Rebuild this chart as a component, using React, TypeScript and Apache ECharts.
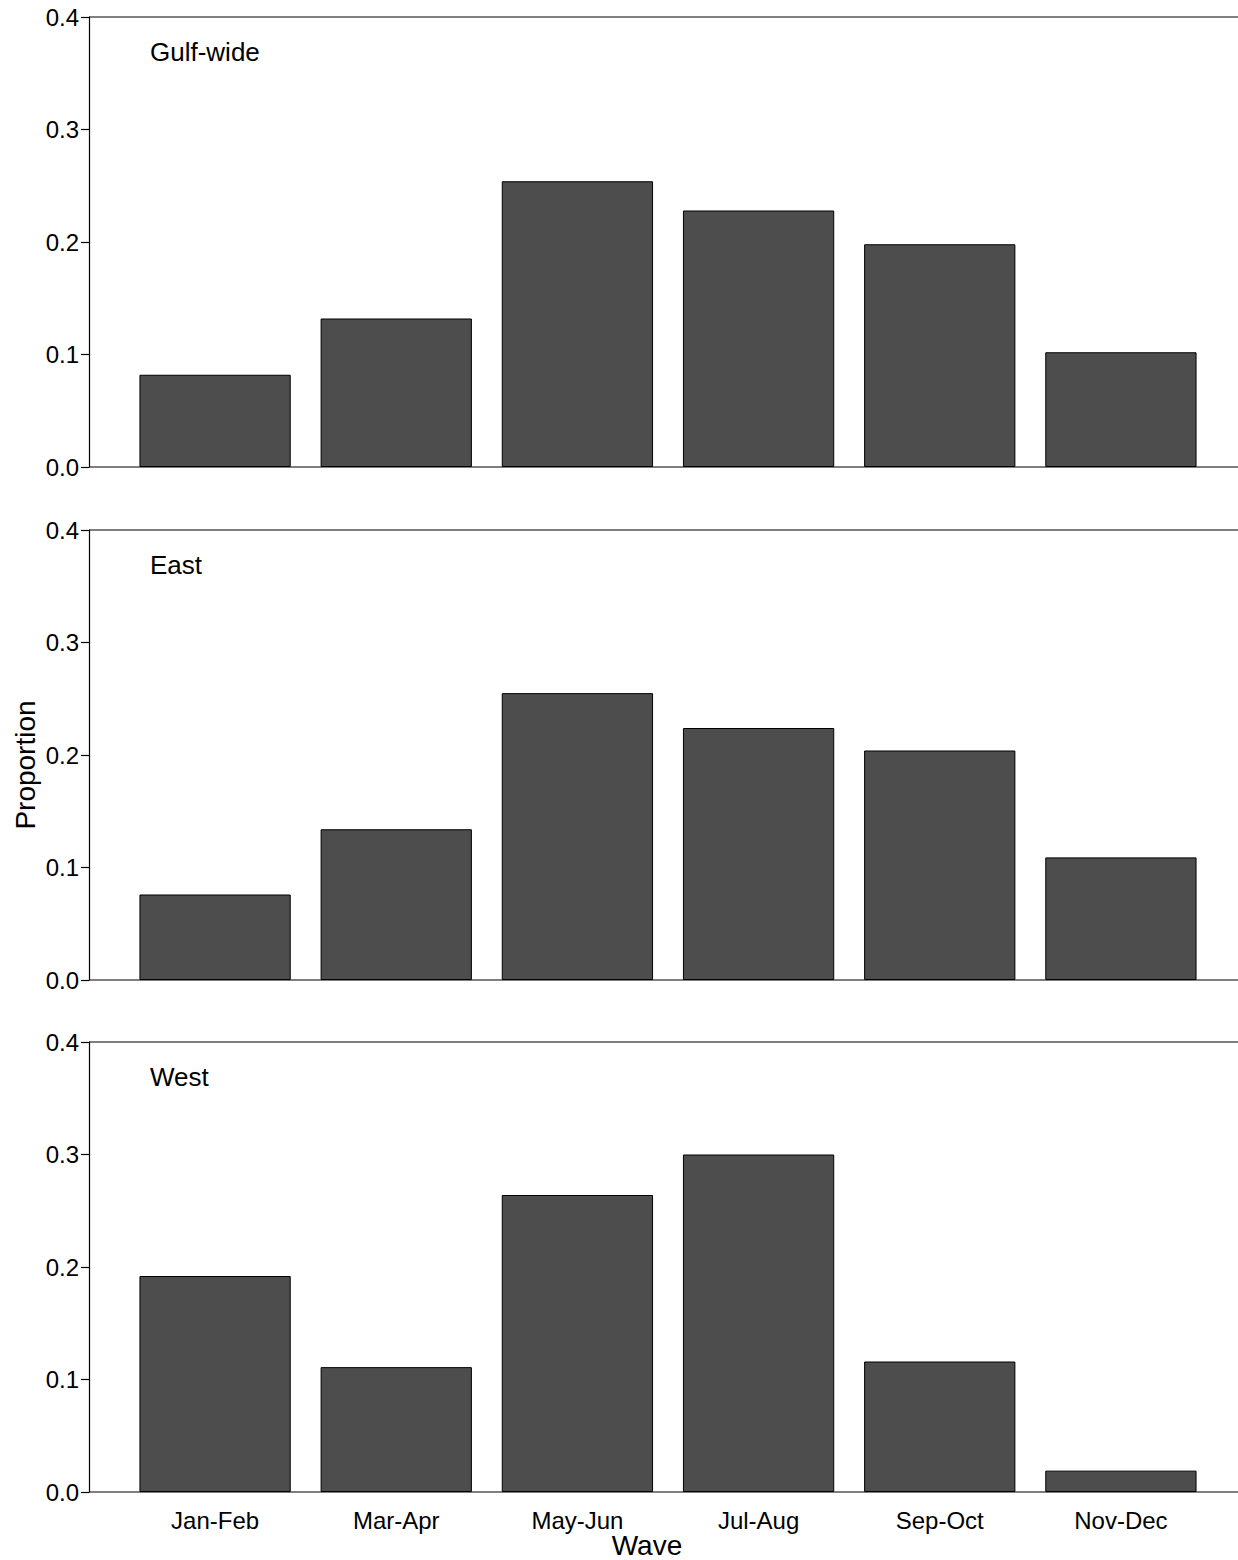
import { useEffect, useRef } from "react";
import * as echarts from "echarts";

const waves = ["Jan-Feb", "Mar-Apr", "May-Jun", "Jul-Aug", "Sep-Oct", "Nov-Dec"];
const panelNames = ["Gulf-wide", "East", "West"];
const gulfWide = [0.082, 0.132, 0.254, 0.228, 0.198, 0.102];
const east = [0.076, 0.134, 0.255, 0.224, 0.204, 0.109];
const west = [0.192, 0.111, 0.264, 0.3, 0.116, 0.019];
const yTicks = [0, 0.1, 0.2, 0.3, 0.4];

const FONT = "Liberation Sans";
const TOPS = [17, 530, 1042];
const H = 450;

export default function App() {
  const elRef = useRef<HTMLDivElement>(null);

  useEffect(() => {
    document.body.style.margin = "0";
    const el = elRef.current;
    if (!el) return;
    const chart = echarts.init(el, undefined, { renderer: "svg" });
    const data = [gulfWide, east, west];

    const lines: any[] = [];
    TOPS.forEach((t) => {
      [t, t + H].forEach((y) =>
        lines.push({
          type: "line",
          shape: { x1: 89, y1: y, x2: 1238, y2: y },
          style: { stroke: "#000", lineWidth: 1.2 },
        }),
      );
    });

    chart.setOption({
      animation: false,
      backgroundColor: "#fff",
      grid: TOPS.map((t) => ({ left: 124.5, width: 1087, top: t, height: H })),
      xAxis: TOPS.map((_, i) => ({
        type: "category",
        gridIndex: i,
        data: waves,
        axisLine: { show: false },
        axisTick: { show: false },
        axisLabel: {
          show: i === 2,
          color: "#000",
          fontFamily: FONT,
          fontSize: 24,
          margin: 16,
        },
      })),
      yAxis: TOPS.map((_, i) => ({
        type: "value",
        gridIndex: i,
        min: 0,
        max: 0.4,
        interval: 0.1,
        offset: 35.5,
        splitLine: { show: false },
        axisLine: { show: true, lineStyle: { color: "#000", width: 1.2 } },
        axisTick: { show: true, length: 8, lineStyle: { color: "#000", width: 1.2 } },
        axisLabel: {
          color: "#000",
          fontFamily: FONT,
          fontSize: 24,
          margin: 10,
          formatter: (v: number) => (yTicks.includes(Math.round(v * 10) / 10) ? v.toFixed(1) : ""),
        },
      })),
      series: data.map((d, i) => ({
        type: "bar",
        xAxisIndex: i,
        yAxisIndex: i,
        data: d,
        barCategoryGap: "16.5%",
        itemStyle: { color: "#4d4d4d", borderColor: "#000", borderWidth: 1 },
      })),
      graphic: [
        ...lines,
        ...panelNames.map((n, i) => ({
          type: "text",
          left: 150,
          top: TOPS[i] + 22,
          style: { text: n, font: `26px "${FONT}"`, fill: "#000" },
        })),
        {
          type: "text",
          x: 647,
          y: 1545,
          style: { text: "Wave", font: `28px "${FONT}"`, fill: "#000", align: "center", verticalAlign: "middle" },
        },
        {
          type: "text",
          x: 25,
          y: 765,
          rotation: Math.PI / 2,
          style: { text: "Proportion", font: `28px "${FONT}"`, fill: "#000", align: "center", verticalAlign: "middle" },
        },
      ],
    });
    return () => chart.dispose();
  }, []);

  return <div ref={elRef} style={{ width: 1238, height: 1560 }} />;
}
